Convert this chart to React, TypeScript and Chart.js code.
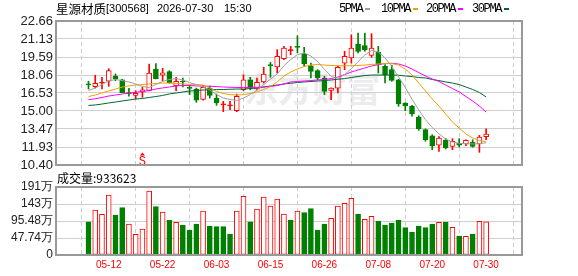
import React, { useEffect, useRef } from "react";
import { Chart, registerables } from "chart.js";
Chart.register(...registerables);

// ---------------- data ----------------
const dates = ["05-12", "05-22", "06-03", "06-15", "06-26", "07-08", "07-20", "07-30"];
const dateIdx = [3, 11, 19, 27, 35, 43, 51, 59];

const open = [17.26,17.07,17.37,17.53,17.98,17.66,16.49,16.33,16.61,16.76,18.57,18.05,18.35,17.15,17.49,16.95,16.87,15.99,16.95,16.10,15.53,15.44,15.03,16.81,17.66,16.87,17.47,18.89,18.74,19.45,20.14,20.44,19.85,18.85,18.43,17.81,16.76,16.95,19.08,19.51,20.70,20.56,19.74,20.02,18.80,18.52,17.66,15.68,15.40,14.49,13.41,12.89,12.08,12.50,11.99,12.27,12.19,12.35,12.19,12.81];
const close = [17.22,17.36,17.40,18.43,17.72,16.56,16.47,16.50,16.79,18.23,17.75,18.25,17.38,17.53,17.47,16.93,15.93,17.01,16.33,15.68,15.56,15.47,16.25,17.66,16.95,17.44,18.15,18.86,19.65,20.36,20.17,20.41,19.00,18.37,17.81,16.67,16.95,18.72,19.65,20.36,20.08,20.22,20.36,18.94,18.09,17.61,15.59,15.45,14.74,13.47,12.55,12.04,12.70,11.85,12.41,12.08,12.50,11.99,12.78,13.04];
const high = [17.53,18.04,17.87,18.60,18.15,17.70,16.93,16.73,17.01,19.00,19.03,18.63,18.43,17.87,17.81,17.15,16.95,17.15,17.13,16.44,15.82,15.82,16.44,18.09,17.87,17.81,18.72,19.14,20.22,20.50,20.50,21.41,20.42,19.08,18.52,17.95,16.97,18.85,20.08,21.49,21.63,21.63,21.58,20.50,18.94,18.90,17.70,15.70,15.48,14.60,13.47,12.98,12.83,12.64,12.64,12.64,12.55,12.55,12.92,13.47];
const low = [16.87,16.95,16.87,17.10,17.58,16.55,16.27,16.02,16.16,16.70,17.72,17.58,17.36,16.73,17.04,16.39,15.74,15.91,16.10,15.48,14.94,15.11,14.94,16.73,16.81,16.80,17.38,17.87,18.23,19.37,19.79,19.94,18.80,17.81,17.66,16.39,15.96,16.53,18.52,19.08,19.94,20.08,19.57,18.23,17.38,17.53,15.40,15.02,14.55,13.35,12.42,11.70,11.56,11.76,11.70,11.93,12.04,11.91,11.48,12.55];

const ma5 = [16.74,16.96,17.25,17.55,17.68,17.59,17.47,17.30,17.08,17.00,17.25,17.51,17.68,17.76,17.64,17.42,17.25,17.04,16.79,16.40,16.10,15.98,15.90,16.10,16.40,16.78,17.25,17.70,18.15,18.85,19.38,19.79,19.95,19.68,19.20,18.55,17.95,17.78,18.10,18.60,19.20,19.77,20.15,20.02,19.51,18.80,17.90,17.00,16.00,15.10,14.25,13.60,13.05,12.61,12.36,12.25,12.21,12.19,12.21,12.30];
const ma10 = [16.23,16.36,16.53,16.70,16.87,17.04,17.13,17.21,17.25,17.30,17.34,17.38,17.38,17.34,17.30,17.27,17.25,17.21,16.96,16.66,16.49,16.39,16.36,16.39,16.49,16.62,16.83,17.08,17.47,17.98,18.32,18.57,18.79,18.91,18.96,18.91,18.87,18.85,18.85,18.85,18.87,18.91,18.96,19.00,19.04,19.04,18.91,18.57,18.06,17.38,16.70,16.02,15.42,14.74,14.06,13.55,13.04,12.70,12.49,12.36];
const ma20 = [15.96,16.04,16.15,16.27,16.36,16.44,16.53,16.59,16.66,16.74,16.87,16.96,17.04,17.13,17.17,17.17,17.13,17.13,17.10,17.08,17.04,17.02,17.00,17.00,17.00,17.02,17.04,17.08,17.17,17.30,17.47,17.51,17.55,17.59,17.64,17.68,17.76,17.89,18.10,18.32,18.49,18.66,18.83,18.94,19.04,19.06,19.00,18.83,18.57,18.27,17.98,17.72,17.51,17.21,16.91,16.62,16.23,15.85,15.42,14.91];
const ma30 = [15.47,15.51,15.59,15.68,15.76,15.85,15.93,16.02,16.06,16.15,16.23,16.32,16.45,16.53,16.62,16.70,16.74,16.79,16.79,16.83,16.83,16.85,16.87,16.87,16.91,16.96,17.04,17.13,17.21,17.30,17.36,17.42,17.47,17.51,17.55,17.59,17.64,17.70,17.76,17.85,17.93,18.02,18.06,18.06,18.06,18.06,18.04,17.98,17.93,17.85,17.81,17.68,17.59,17.47,17.38,17.25,17.04,16.83,16.57,16.19];
const maLabels = ["5PMA", "10PMA", "20PMA", "30PMA"];
const maColors = ["#a0a0a0", "#f0a000", "#ff00ff", "#006633"];

// volume in 万 (10k shares)
const volume = [93.5,126.4,114.2,168.5,112.3,132.9,87.0,58.0,73.0,179.7,135.7,120.5,98.3,91.7,84.2,70.2,87.0,123.6,81.4,79.6,79.6,59.0,123.6,164.7,93.5,129.2,162.9,137.6,157.2,115.1,98.3,123.6,118.9,130.1,70.2,87.0,103.0,137.6,145.1,159.1,115.1,100.1,108.6,95.5,84.2,89.9,98.3,76.8,64.6,81.4,76.8,87.0,91.7,92.6,77.7,53.4,52.4,59.0,94.6,93.3623];
// 1 = red (up), 0 = green (down) volume bars
const volUp = [0,1,1,1,0,0,1,1,1,1,0,1,0,1,0,0,0,1,0,0,0,0,1,1,0,1,1,1,1,1,0,1,0,0,0,0,1,1,1,1,0,1,1,0,0,0,0,0,0,0,0,0,1,0,1,0,1,0,1,1];

const priceTicks = [22.66, 21.13, 19.59, 18.06, 16.53, 15.0, 13.47, 11.93, 10.4];
const priceTickLabels = ["22.66", "21.13", "19.59", "18.06", "16.53", "15.00", "13.47", "11.93", "10.40"];
const volTicks = [190.96, 143.22, 95.48, 47.74, 0];
const volTickLabels = ["191万", "143万", "95.48万", "47.74万", "0"];
const sellSignalIdx = 8;

const stockName = "星源材质";
const stockCode = "[300568]";
const dateText = "2026-07-30";
const timeText = "15:30";

// ---------------- styles ----------------
const RED = "#ff0000";
const GREEN = "#008000";
const GRID = "#cfcfcf";
const FRAME = "#999999";
const SANS = "'Liberation Sans', Arial, sans-serif";
const CJK = "'Noto Sans CJK SC', sans-serif";

const idx = close.map((_, i) => i);
const isUp = idx.map((i) => close[i] > open[i]);
const isDoji = idx.map((i) => Math.abs(close[i] - open[i]) < 0.05);

const labelFor = (vals: number[], labels: string[]) => (v: any) => {
  const k = vals.findIndex((t) => Math.abs(t - Number(v)) < 1e-6);
  return k >= 0 ? labels[k] : "";
};

function xScale(showLabels: boolean) {
  return {
    type: "linear",
    min: -0.5,
    max: 60,
    afterBuildTicks: (s: any) => {
      s.ticks = dateIdx.map((v) => ({ value: v }));
    },
    grid: { color: GRID, lineWidth: 1, drawTicks: false },
    border: { display: false, dash: [4, 3] },
    ticks: showLabels
      ? {
          display: true,
          autoSkip: false,
          maxRotation: 0,
          padding: 4,
          color: RED,
          font: { size: 10, family: SANS },
          callback: labelFor(dateIdx, dates),
        }
      : { display: false },
    afterFit: (s: any) => {
      s.height = showLabels ? 21 : 0;
    },
  };
}

function yScale(min: number, max: number, vals: number[], labels: string[], size: number) {
  return {
    min,
    max,
    afterBuildTicks: (s: any) => {
      s.ticks = vals.map((v) => ({ value: v }));
    },
    grid: { color: GRID, lineWidth: 1, drawTicks: false },
    border: { display: false },
    ticks: {
      autoSkip: false,
      padding: 3,
      color: "#222",
      font: { size, family: SANS },
      callback: labelFor(vals, labels),
    },
    afterFit: (s: any) => {
      s.width = 56;
    },
  };
}

const framePlugin = {
  id: "frame",
  afterDraw(chart: any) {
    const { ctx, chartArea } = chart;
    const { left, top, right, bottom } = chartArea;
    ctx.save();
    ctx.strokeStyle = FRAME;
    ctx.lineWidth = 2;
    ctx.strokeRect(left, top, right - left, bottom - top);
    ctx.restore();
  },
};

const watermarkPlugin = {
  id: "watermark",
  beforeDraw(chart: any) {
    const { ctx, chartArea } = chart;
    const { left, top, right, bottom } = chartArea;
    const cx = left + (right - left) * 0.55;
    const cy = top + (bottom - top) * 0.47;
    ctx.save();
    ctx.fillStyle = "#ececef";
    ctx.font = `bold 34px ${CJK}`;
    ctx.textAlign = "center";
    ctx.textBaseline = "middle";
    ctx.fillText("东方财富", cx, cy);
    ctx.restore();
  },
};

const signalPlugin = {
  id: "signal",
  afterDatasetsDraw(chart: any) {
    const { ctx, chartArea } = chart;
    const x = chart.scales.x.getPixelForValue(sellSignalIdx);
    const yb = chartArea.bottom;
    ctx.save();
    ctx.fillStyle = RED;
    ctx.beginPath();
    ctx.moveTo(x, yb - 12.5);
    ctx.lineTo(x - 2.5, yb - 9.5);
    ctx.lineTo(x + 2.5, yb - 9.5);
    ctx.closePath();
    ctx.fill();
    ctx.font = `12px 'Liberation Mono', monospace`;
    ctx.textAlign = "center";
    ctx.textBaseline = "alphabetic";
    ctx.fillText("S", x, yb - 0.5);
    ctx.restore();
  },
};

export default function App() {
  const priceRef = useRef<HTMLCanvasElement>(null);
  const volRef = useRef<HTMLCanvasElement>(null);

  useEffect(() => {
    const mas = [ma5, ma10, ma20, ma30];
    const priceChart = new Chart(priceRef.current as HTMLCanvasElement, {
      type: "bar",
      data: {
        datasets: [
          ...mas.map((arr, k) => ({
            type: "line" as const,
            label: maLabels[k],
            data: idx.map((i) => ({ x: i, y: arr[i] })),
            borderColor: maColors[k],
            borderWidth: 1,
            pointRadius: 0,
            tension: 0,
            fill: false,
            order: 1,
          })),
          {
            type: "bar" as const,
            label: "wick",
            data: idx.map((i) => ({ x: i, y: [low[i], high[i]] })) as any,
            backgroundColor: idx.map((i) => (isUp[i] ? RED : GREEN)),
            borderWidth: 0,
            barThickness: 1,
            grouped: false,
            order: 3,
          },
          {
            type: "bar" as const,
            label: "body",
            data: idx.map((i) => ({ x: i, y: [open[i], close[i]] })) as any,
            backgroundColor: idx.map((i) => (isDoji[i] ? (isUp[i] ? RED : GREEN) : isUp[i] ? "#ffffff" : GREEN)),
            borderColor: idx.map((i) => (isUp[i] ? RED : GREEN)),
            borderWidth: 1,
            borderSkipped: false,
            barThickness: 5,
            minBarLength: 1,
            grouped: false,
            order: 2,
          },
        ],
      },
      options: {
        responsive: false,
        animation: false,
        events: [],
        layout: { padding: { left: 0, right: 56, top: 21, bottom: 15 } },
        plugins: { legend: { display: false }, tooltip: { enabled: false } },
        scales: {
          x: xScale(false) as any,
          y: yScale(10.4, 22.66, priceTicks, priceTickLabels, 13) as any,
        },
      },
      plugins: [watermarkPlugin, framePlugin, signalPlugin],
    });

    const volChart = new Chart(volRef.current as HTMLCanvasElement, {
      type: "bar",
      data: {
        datasets: [
          {
            label: "成交量",
            data: idx.map((i) => ({ x: i, y: volume[i] })) as any,
            backgroundColor: idx.map((i) => (volUp[i] ? "#ffffff" : GREEN)),
            borderColor: idx.map((i) => (volUp[i] ? RED : GREEN)),
            borderWidth: 1,
            borderSkipped: false,
            barThickness: 5,
            grouped: false,
          },
        ],
      },
      options: {
        responsive: false,
        animation: false,
        events: [],
        layout: { padding: { left: 0, right: 56, top: 11, bottom: 0 } },
        plugins: { legend: { display: false }, tooltip: { enabled: false } },
        scales: {
          x: xScale(true) as any,
          y: yScale(0, 190.96, volTicks, volTickLabels, 12) as any,
        },
      },
      plugins: [framePlugin],
    });

    return () => {
      priceChart.destroy();
      volChart.destroy();
    };
  }, []);

  const legendLefts = [339, 381, 426, 472];
  const latin = `11px ${SANS}`;

  return (
    <div style={{ position: "fixed", left: 0, top: 0, width: 578, height: 276, background: "#fff", overflow: "hidden" }}>
      <canvas ref={priceRef} width={578} height={180} style={{ position: "absolute", left: 0, top: 0 }} />
      <canvas ref={volRef} width={578} height={100} style={{ position: "absolute", left: 0, top: 176 }} />
      <div style={{ position: "absolute", left: 56, top: 1, height: 15, width: 220, color: "#000", whiteSpace: "pre", lineHeight: "15px" }}>
        <span style={{ position: "absolute", left: 0, top: 0, font: `12.5px ${CJK}`, lineHeight: "15px" }}>{stockName}</span>
        <span style={{ position: "absolute", left: 50, top: 0, font: latin, lineHeight: "15px" }}>{stockCode}</span>
        <span style={{ position: "absolute", left: 101, top: 0, font: latin, lineHeight: "15px" }}>{dateText}</span>
        <span style={{ position: "absolute", left: 168, top: 0, font: latin, lineHeight: "15px" }}>{timeText}</span>
      </div>
      {maLabels.map((t, k) => (
        <div
          key={t}
          style={{
            position: "absolute",
            left: legendLefts[k],
            top: 2,
            font: "12px 'Liberation Mono', monospace",
            letterSpacing: "-1.4px",
            lineHeight: "14px",
            color: "#000",
            whiteSpace: "pre",
          }}
        >
          {t}
          <span style={{ display: "inline-block", width: 5, height: 2, background: maColors[k], marginLeft: 3, verticalAlign: "middle" }} />
        </div>
      ))}
      <div style={{ position: "absolute", left: 57, top: 170, font: `12px ${CJK}`, lineHeight: "15px", color: "#000" }}>
        成交量:{Math.round(volume[volume.length - 1] * 10000)}
      </div>
    </div>
  );
}
